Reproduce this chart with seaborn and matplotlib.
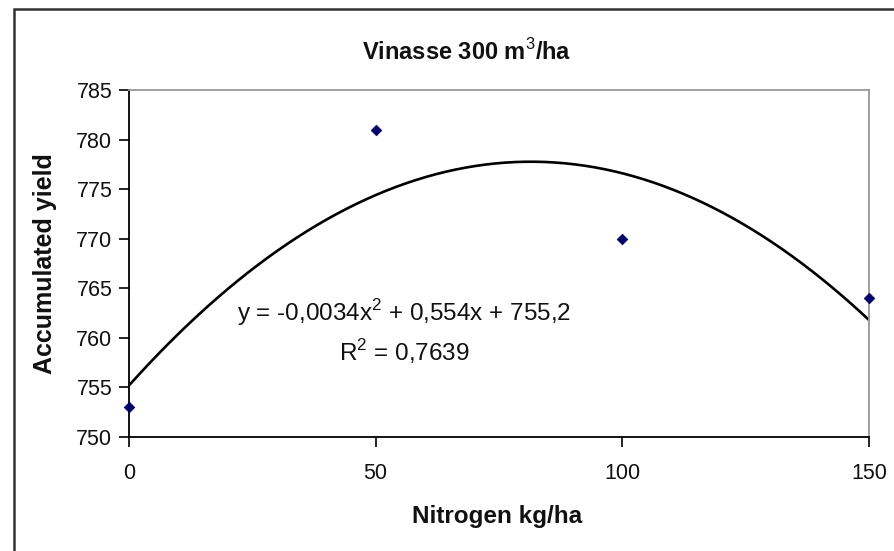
import numpy as np
import pandas as pd
import matplotlib
matplotlib.use("Agg")
import matplotlib.pyplot as plt
import seaborn as sns
from matplotlib.patches import Rectangle

nitrogen = [0, 50, 100, 150]
yield_vals = [753, 781, 770, 764]
x_ticks = [0, 50, 100, 150]
y_ticks = [750, 755, 760, 765, 770, 775, 780, 785]
title = "Vinasse 300 m$^{3}$/ha"
eq_text = "y = -0,0034x$^{2}$ + 0,554x + 755,2"
r2_text = "R$^{2}$ = 0,7639"
xlabel = "Nitrogen kg/ha"
ylabel = "Accumulated yield"

sns.set_theme(style="white")
plt.rcParams['font.family'] = ['Liberation Sans', 'DejaVu Sans']
plt.rcParams['mathtext.fontset'] = 'custom'
plt.rcParams['mathtext.rm'] = 'Liberation Sans'
plt.rcParams['mathtext.bf'] = 'Liberation Sans:bold'

df = pd.DataFrame({"N": nitrogen, "Y": yield_vals})
coef = np.polyfit(df["N"], df["Y"], 2)
xs = np.linspace(0, 150, 300)
fit = pd.DataFrame({"N": xs, "Y": np.polyval(coef, xs)})

fig = plt.figure(figsize=(8.95, 5.51), dpi=100)
ax = fig.add_axes([129/895, 1-437/551, (869-129)/895, (437-90)/551])

sns.lineplot(data=fit, x="N", y="Y", ax=ax, color="black", linewidth=1.9)
sns.scatterplot(data=df, x="N", y="Y", ax=ax, marker="D", s=30, color="#000066",
                edgecolor="#000066", zorder=5, clip_on=False)

ax.set_xlim(0, 150)
ax.set_ylim(750, 785)
ax.set_xticks(x_ticks)
ax.set_yticks(y_ticks)
ax.tick_params(axis="both", direction="out", length=7, width=1.2, color="black",
               labelsize=15.5, labelcolor="#111111")
ax.tick_params(axis="x", pad=12, bottom=True)
ax.tick_params(axis="y", pad=5, left=True)

for s in ["left", "bottom"]:
    ax.spines[s].set_color("black")
    ax.spines[s].set_linewidth(1.3)
for s in ["top", "right"]:
    ax.spines[s].set_color("#999999")
    ax.spines[s].set_linewidth(1.3)

ax.set_xlabel("")
ax.set_ylabel("")
fig.text(497/895, 1-517/551, xlabel, ha="center", va="center",
         fontsize=17.5, fontweight="bold", color="#111111")
fig.text(45/895, 1-264/551, ylabel,
         ha="center", va="center", rotation=90, fontsize=18, fontweight="bold",
         color="#111111")
fig.text(467/895, 1-52/551, title, ha="center", va="center", fontsize=17,
         fontweight="bold", color="#111111")

ax.text(404/895, 1-313/551, eq_text, transform=fig.transFigure, ha="center",
        va="center", fontsize=17.5, color="#111111")
ax.text(404/895, 1-352/551, r2_text, transform=fig.transFigure, ha="center",
        va="center", fontsize=17.5, color="#111111")

fig.patches.append(Rectangle((14/895, -0.5), 2, 1.5 - 9/551,
                             transform=fig.transFigure, fill=False,
                             edgecolor="#333333", linewidth=1.8))

fig.savefig("out.png", dpi=100)
